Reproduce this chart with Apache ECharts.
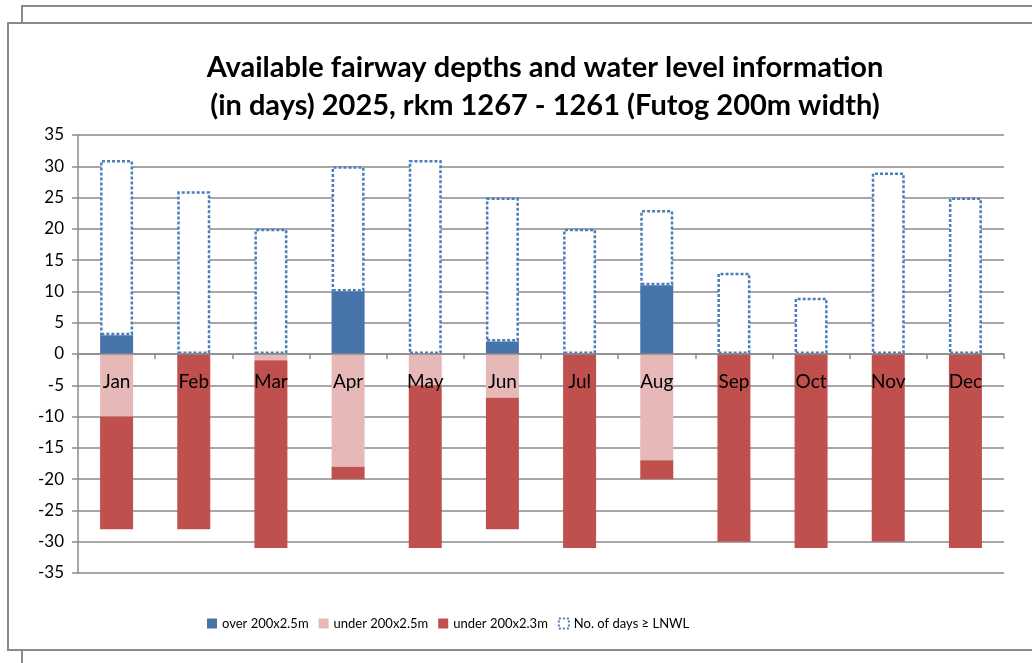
<!DOCTYPE html>
<html>
<head>
<meta charset="utf-8">
<script src="https://cdn.jsdelivr.net/npm/echarts@6/dist/echarts.min.js"></script>
<style>
html,body{margin:0;padding:0;background:#fff;}
#chart{width:1032px;height:663px;}
</style>
</head>
<body>
<div id="chart"></div>
<script>
var months = ['Jan','Feb','Mar','Apr','May','Jun','Jul','Aug','Sep','Oct','Nov','Dec'];
var over25 = [3, 0, 0, 10, 0, 2, 0, 11, 0, 0, 0, 0];
var under25 = [-10, 0, -1, -18, -5, -7, 0, -17, 0, 0, 0, 0];
var under23 = [-18, -28, -30, -2, -26, -21, -31, -3, -30, -31, -30, -31];
var lnwlDays = [31, 26, 20, 30, 31, 25, 20, 23, 13, 9, 29, 25];
var yTicks = { min: -35, max: 35, interval: 5 };

var lnwlRest = lnwlDays.map(function (v, i) { return v - over25[i]; });

var FONT = 'Lato';
var GRID = '#8a8a8a';
var GRID_TOP = 135, GRID_BOTTOM = 90, H = 663;
var plotH = H - GRID_TOP - GRID_BOTTOM;
var zeroOffset = -plotH * (0 - yTicks.min) / (yTicks.max - yTicks.min);

var chart = echarts.init(document.getElementById('chart'), null, { renderer: 'canvas' });
chart.setOption({
  backgroundColor: '#fff',
  animation: false,
  textStyle: { fontFamily: FONT },
  title: {
    text: 'Available fairway depths and water level information\n(in days) 2025, rkm 1267 - 1261 (Futog 200m width)',
    left: 540,
    textAlign: 'center',
    top: 44,
    textStyle: { fontFamily: FONT, fontSize: 29, fontWeight: 'bold', color: '#000', lineHeight: 38 }
  },
  graphic: [
    { type: 'rect', z: -100, shape: { x: 22, y: 6, width: 1040, height: 700 },
      style: { fill: '#fff', stroke: GRID, lineWidth: 2 } },
    { type: 'rect', z: -99, shape: { x: 8, y: 23, width: 1050, height: 627 },
      style: { fill: '#fff', stroke: GRID, lineWidth: 2 } }
  ],
  legend: {
    left: 202,
    top: 612,
    itemWidth: 10,
    itemHeight: 10,
    itemGap: 10,
    textStyle: { fontFamily: FONT, fontSize: 13, color: '#000' },
    data: [
      { name: 'over 200x2.5m', icon: 'rect' },
      { name: 'under 200x2.5m', icon: 'rect' },
      { name: 'under 200x2.3m', icon: 'rect' },
      { name: 'No. of days \u2265 LNWL', icon: 'rect',
        itemStyle: { color: '#fff', borderColor: '#4a7ebb', borderWidth: 2, borderType: [2, 2] } }
    ]
  },
  grid: { left: 78, right: 28, top: GRID_TOP, bottom: GRID_BOTTOM, containLabel: false },
  xAxis: {
    type: 'category',
    data: months,
    z: 10,
    offset: zeroOffset,
    axisLine: { onZero: false, lineStyle: { color: GRID, width: 1.5 } },
    axisTick: { show: true, length: 5, lineStyle: { color: GRID, width: 1.5 } },
    axisLabel: { fontFamily: FONT, fontSize: 19, color: '#000', margin: 18 },
    splitLine: { show: false }
  },
  yAxis: {
    type: 'value',
    min: yTicks.min,
    max: yTicks.max,
    interval: yTicks.interval,
    axisLine: { show: true, lineStyle: { color: GRID, width: 1.5 } },
    axisTick: { show: true, length: 6, inside: false, lineStyle: { color: GRID, width: 1.5 } },
    axisLabel: { fontFamily: FONT, fontSize: 17, color: '#000', margin: 14 },
    splitLine: { show: true, lineStyle: { color: GRID, width: 1.5 } }
  },
  series: [
    {
      name: 'over 200x2.5m', type: 'bar', stack: 'a', data: over25, barWidth: 33,
      itemStyle: { color: '#4674aa' }
    },
    {
      name: 'under 200x2.5m', type: 'bar', stack: 'a', data: under25, barWidth: 33,
      itemStyle: { color: '#e6b9b8' }
    },
    {
      name: 'under 200x2.3m', type: 'bar', stack: 'a', data: under23, barWidth: 33,
      itemStyle: { color: '#c0504d' }
    },
    {
      name: 'No. of days \u2265 LNWL', type: 'bar', stack: 'a', data: lnwlRest, barWidth: 33,
      itemStyle: { color: '#fff', borderColor: '#4a7ebb', borderWidth: 2.5, borderType: [3, 2] }
    }
  ]
});
</script>
</body>
</html>
